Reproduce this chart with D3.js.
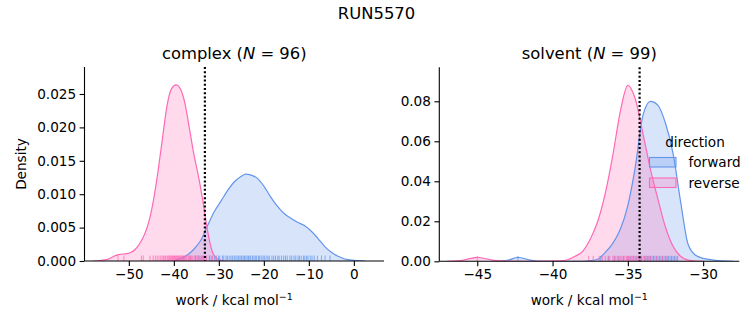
<!DOCTYPE html>
<html><head><meta charset="utf-8">
<script src="https://cdn.jsdelivr.net/npm/d3@7"></script>
<style>body{margin:0;background:#fff}svg{display:block;font-family:"DejaVu Sans",sans-serif}</style>
</head><body><svg id="c" width="753" height="325"></svg>
<script>
// ---- data ----
const suptitle = "RUN5570";
const panels = ["complex", "solvent"];
const panelN = [96, 99];
const directions = ["forward", "reverse"];
const dashedAt = [-33.1, -34.22];

const xTicksComplex = [-50, -40, -30, -20, -10, 0];
const yTicksComplex = [0, 0.005, 0.010, 0.015, 0.020, 0.025];
const xTicksSolvent = [-45, -40, -35, -30];
const yTicksSolvent = [0, 0.02, 0.04, 0.06, 0.08];

// KDE curves [work, density]
const complexForwardKde = [[-40,0],[-38.5,0.0004],[-37,0.0009],[-35.5,0.0018],[-34,0.0031],[-32.5,0.0053],[-31,0.0074],[-29.5,0.0090],[-28,0.0106],[-26.5,0.0119],[-25,0.0127],[-24,0.0130],[-23,0.0129],[-21.5,0.0124],[-20,0.0112],[-18.5,0.0096],[-17,0.0082],[-15.5,0.0071],[-14,0.0064],[-12.5,0.0058],[-11,0.0053],[-9.5,0.0045],[-8,0.0034],[-6.5,0.0022],[-5,0.0013],[-3.5,0.0007],[-2,0.0003],[0,0.0001],[2.5,0]];
const complexReverseKde = [[-58,0],[-56,0.0001],[-54.5,0.0003],[-53,0.0008],[-52,0.0010],[-50.5,0.0011],[-49.5,0.0013],[-48.5,0.0018],[-47.5,0.0027],[-46.5,0.0040],[-45.5,0.0060],[-44.5,0.0092],[-43.5,0.0135],[-42.5,0.0185],[-41.5,0.0233],[-40.5,0.0258],[-39.5,0.02635],[-38.5,0.0257],[-37.5,0.0235],[-36.5,0.0197],[-35.5,0.0158],[-34.5,0.0126],[-33.5,0.0088],[-32.5,0.0045],[-31.5,0.0015],[-30.5,0.0004],[-29.5,0.0001],[-28.5,0]];
const solventForwardKde = [[-44,0],[-43,0.0005],[-42.3,0.0020],[-41.5,0.0006],[-40.5,0],[-38,0],[-37.5,0.0003],[-37,0.0010],[-36.5,0.0045],[-36,0.0090],[-35.5,0.0160],[-35,0.0280],[-34.5,0.0475],[-34,0.0730],[-33.5,0.0800],[-33,0.0780],[-32.5,0.0690],[-32,0.0540],[-31.5,0.0300],[-31,0.0085],[-30.5,0.0030],[-30,0.0015],[-29.5,0.0008],[-29,0.0003],[-28,0]];
const solventReverseKde = [[-47,0],[-46,0.0005],[-45,0.0020],[-44,0.0006],[-43,0.0001],[-41.5,0],[-39.5,0.0002],[-39,0.0008],[-38.5,0.0025],[-38,0.0050],[-37.5,0.0110],[-37,0.0200],[-36.5,0.0340],[-36,0.0530],[-35.5,0.0750],[-35,0.0880],[-34.5,0.0810],[-34,0.0640],[-33.5,0.0460],[-33,0.0310],[-32.5,0.0170],[-32,0.0075],[-31.5,0.0025],[-31,0.0006],[-30.5,0.0001],[-30,0]];

// rug samples
const complexForwardRug = [-37.8,-36.4,-35.2,-34.6,-33.9,-33.5,-32.8,-32.1,-31.7,-31.0,-30.6,-30.1,-29.8,-29.2,-28.9,-28.4,-28.1,-27.7,-27.3,-27.0,-26.6,-26.4,-26.0,-25.7,-25.5,-25.1,-24.9,-24.6,-24.3,-24.0,-23.7,-23.4,-23.1,-22.9,-22.5,-22.2,-21.9,-21.6,-21.2,-21.0,-20.6,-20.2,-19.9,-19.5,-19.1,-18.8,-18.2,-17.8,-17.4,-16.9,-16.6,-16.1,-15.6,-15.2,-14.8,-14.2,-13.8,-13.3,-12.9,-12.4,-12.1,-11.7,-11.2,-10.9,-10.5,-10.2,-9.7,-9.3,-8.8,-8.1,-7.2,-6.4,-5.3];
const complexReverseRug = [-52.4,-51.1,-47.2,-46.8,-45.3,-44.6,-44.1,-43.7,-43.3,-42.9,-42.6,-42.3,-42.0,-41.8,-41.5,-41.3,-41.1,-40.9,-40.7,-40.5,-40.3,-40.1,-39.9,-39.8,-39.6,-39.4,-39.2,-39.0,-38.9,-38.7,-38.5,-38.3,-38.1,-37.9,-37.7,-37.5,-37.3,-37.1,-36.8,-36.6,-36.3,-36.1,-35.8,-35.5,-35.2,-34.9,-34.6,-34.3,-34.0,-33.6,-33.2,-32.7,-32.1,-31.4,-30.6];
const solventForwardRug = [-42.3,-36.8,-36.3,-35.9,-35.6,-35.3,-35.0,-34.8,-34.6,-34.4,-34.2,-34.1,-33.9,-33.8,-33.7,-33.6,-33.5,-33.4,-33.3,-33.2,-33.1,-33.0,-32.9,-32.8,-32.7,-32.6,-32.5,-32.4,-32.3,-32.2,-32.1,-32.0,-31.9,-31.8,-31.7];
const solventReverseRug = [-45.0,-37.6,-37.3,-36.9,-36.7,-36.5,-36.3,-36.2,-36.0,-35.9,-35.8,-35.7,-35.6,-35.5,-35.4,-35.3,-35.2,-35.1,-35.0,-34.95,-34.9,-34.8,-34.7,-34.6,-34.5,-34.4,-34.3,-34.2,-34.1,-34.0,-33.9,-33.8,-33.6,-33.5,-33.3,-33.1,-32.9,-32.7,-32.4,-32.1];

// ---- drawing ----
const colors = {forward: "#6495ED", reverse: "#FF69B4"};
const svg = d3.select("#c");
const FS = 13.6, TFS = 16.4;
const minus = s => s.replace(/-/g, "\u2212");

svg.append("text").attr("x", 376.5).attr("y", 18.5).attr("text-anchor", "middle")
  .attr("font-size", TFS).text(suptitle);

const layout = [
  {x0: 84.5, x1: 384, y0: 67, y1: 261, xd: [-59.85, 6.7], yd: [0, 0.02904],
   xt: xTicksComplex, yt: yTicksComplex, yf: d3.format(".3f"),
   kde: {forward: complexForwardKde, reverse: complexReverseKde},
   rug: {forward: complexForwardRug, reverse: complexReverseRug}, ylabel: true, legend: false},
  {x0: 439.3, x1: 739.3, y0: 67.3, y1: 261.3, xd: [-47.52, -27.6], yd: [0, 0.097],
   xt: xTicksSolvent, yt: yTicksSolvent, yf: d3.format(".2f"),
   kde: {forward: solventForwardKde, reverse: solventReverseKde},
   rug: {forward: solventForwardRug, reverse: solventReverseRug}, ylabel: false, legend: true}
];

layout.forEach((L, i) => {
  const x = d3.scaleLinear().domain(L.xd).range([L.x0, L.x1]);
  const y = d3.scaleLinear().domain(L.yd).range([L.y1, L.y0]);
  const g = svg.append("g");
  const cid = "clip" + i;
  svg.append("clipPath").attr("id", cid).append("rect")
    .attr("x", L.x0).attr("y", L.y0).attr("width", L.x1 - L.x0).attr("height", L.y1 - L.y0);
  const plot = g.append("g").attr("clip-path", `url(#${cid})`);

  const area = d3.area().x(d => x(d[0])).y0(y(0)).y1(d => y(d[1])).curve(d3.curveMonotoneX);
  const line = d3.line().x(d => x(d[0])).y(d => y(d[1])).curve(d3.curveMonotoneX);
  directions.forEach(dir => {
    plot.append("path").datum(L.kde[dir]).attr("d", area)
      .attr("fill", colors[dir]).attr("fill-opacity", 0.25).attr("stroke", "none");
  });
  directions.forEach(dir => {
    plot.append("path").datum(L.kde[dir]).attr("d", line)
      .attr("fill", "none").attr("stroke", colors[dir]).attr("stroke-width", 1.2);
  });
  // rugs
  const rh = (L.y1 - L.y0) * 0.028;
  directions.forEach(dir => {
    plot.selectAll(null).data(L.rug[dir]).enter().append("line")
      .attr("x1", d => x(d)).attr("x2", d => x(d))
      .attr("y1", L.y1).attr("y2", L.y1 - rh)
      .attr("stroke", colors[dir]).attr("stroke-opacity", 0.75).attr("stroke-width", 1);
  });
  // dotted line
  g.append("line").attr("x1", x(dashedAt[i])).attr("x2", x(dashedAt[i]))
    .attr("y1", L.y0).attr("y2", L.y1)
    .attr("stroke", "#000").attr("stroke-width", 2.2).attr("stroke-dasharray", "2,2.2");

  // axes
  const xa = g.append("g").attr("transform", `translate(0,${L.y1})`)
    .call(d3.axisBottom(x).tickValues(L.xt).tickSize(4.9).tickPadding(3.5).tickFormat(d => minus(String(d))));
  const ya = g.append("g").attr("transform", `translate(${L.x0},0)`)
    .call(d3.axisLeft(y).tickValues(L.yt).tickSize(4.9).tickPadding(3.5).tickFormat(L.yf));
  [xa, ya].forEach(a => {
    a.selectAll("path").attr("stroke", "#000").attr("stroke-width", 1.1);
    a.selectAll("line").attr("stroke", "#000").attr("stroke-width", 1.1);
    a.selectAll("text").attr("font-size", FS).attr("fill", "#000")
      .attr("font-family", "DejaVu Sans");
  });
  xa.select(".domain").attr("d", `M${L.x0},0H${L.x1}`);
  ya.select(".domain").attr("d", `M0,${L.y1}V${L.y0}`);

  // title
  const cx = (L.x0 + L.x1) / 2;
  const t = svg.append("text").attr("x", cx).attr("y", L.y0 - 8).attr("text-anchor", "middle")
    .attr("font-size", TFS);
  t.append("tspan").text(panels[i] + " (");
  t.append("tspan").attr("font-style", "italic").text("N");
  t.append("tspan").text(" = " + panelN[i] + ")");

  // x label
  const xl = svg.append("text").attr("x", cx).attr("y", 305).attr("text-anchor", "middle")
    .attr("font-size", FS);
  xl.append("tspan").text("work / kcal mol");
  xl.append("tspan").attr("dy", -5).attr("font-size", FS * 0.7).text("\u22121");

  if (L.ylabel) {
    svg.append("text").attr("transform", `translate(26,${(L.y0 + L.y1) / 2}) rotate(-90)`)
      .attr("text-anchor", "middle").attr("font-size", FS).text("Density");
  }
  if (L.legend) {
    const lg = svg.append("g");
    lg.append("text").attr("x", 695).attr("y", 146.5).attr("text-anchor", "middle")
      .attr("font-size", FS).text("direction");
    directions.forEach((dir, k) => {
      const yy = 157.5 + k * 20.5;
      lg.append("rect").attr("x", 649.5).attr("y", yy).attr("width", 26.5).attr("height", 9.5)
        .attr("fill", colors[dir]).attr("fill-opacity", 0.25)
        .attr("stroke", colors[dir]).attr("stroke-width", 1.1);
      lg.append("text").attr("x", 688.5).attr("y", yy + 9.5).attr("font-size", FS).text(dir);
    });
  }
});
</script></body></html>
